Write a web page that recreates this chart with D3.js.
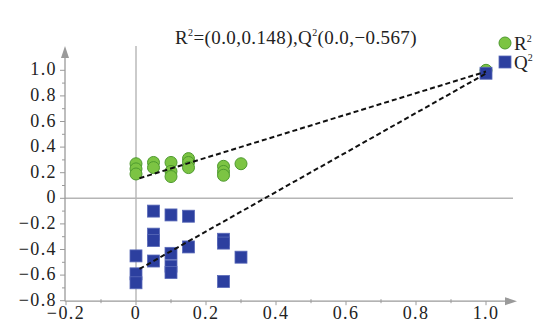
<!DOCTYPE html>
<html>
<head>
<meta charset="utf-8">
<script src="https://cdn.jsdelivr.net/npm/d3@7"></script>
<style>
  html, body { margin: 0; padding: 0; background: #fff; }
  svg { display: block; }
  text { font-family: "Liberation Serif", "DejaVu Serif", serif; fill: #222; }
</style>
</head>
<body>
<svg id="chart" width="554" height="334"></svg>
<script>
// ---- data ----
const r2X = [0, 0, 0, 0.05, 0.05, 0.1, 0.1, 0.1, 0.15, 0.15, 0.15, 0.25, 0.25, 0.25, 0.3, 1.0];
const r2Y = [0.27, 0.23, 0.19, 0.28, 0.24, 0.28, 0.21, 0.17, 0.31, 0.28, 0.24, 0.25, 0.21, 0.18, 0.27, 1.0];
const q2X = [0, 0, 0, 0.05, 0.05, 0.05, 0.05, 0.1, 0.1, 0.1, 0.1, 0.15, 0.15, 0.25, 0.25, 0.25, 0.3, 1.0];
const q2Y = [-0.45, -0.59, -0.66, -0.10, -0.28, -0.33, -0.49, -0.13, -0.43, -0.53, -0.58, -0.14, -0.38, -0.32, -0.35, -0.65, -0.46, 0.977];
const regX = [0.01, 1.0];
const regR2 = [0.157, 0.99];
const regQ2 = [-0.552, 0.975];
const xTicks = [-0.2, 0, 0.2, 0.4, 0.6, 0.8, 1.0];
const xTickLabels = ["\u22120.2", "0", "0.2", "0.4", "0.6", "0.8", "1.0"];
const yTicks = [-0.8, -0.6, -0.4, -0.2, 0, 0.2, 0.4, 0.6, 0.8, 1.0];
const yTickLabels = ["\u22120.8", "\u22120.6", "\u22120.4", "\u22120.2", "0", "0.2", "0.4", "0.6", "0.8", "1.0"];
const minorTicks = [-0.1, 0.1, 0.3, 0.5, 0.7, 0.9];
const yMinorTicks = [-0.7, -0.5, -0.3, -0.1, 0.1, 0.3, 0.5, 0.7, 0.9];
const titleMain = ["R", "=(0.0,0.148),Q", "(0.0,\u22120.567)"];

// ---- scales ----
const x = d3.scaleLinear().domain([0, 1]).range([136, 486]);
const y = d3.scaleLinear().domain([0, 1]).range([198.3, 70.3]);

const svg = d3.select("#chart");
const FONT = "'Liberation Serif', 'DejaVu Serif', serif";
const axisColor = "#9a9a9a";
const x0 = x(-0.2) - 1;     // y-axis position
const yBase = y(-0.8) + 0.5; // x-axis position
const xEnd = 517, yTop = 46;

// reference lines at zero
svg.append("line").attr("x1", x(0)).attr("x2", x(0)).attr("y1", yTop).attr("y2", yBase)
  .attr("stroke", "#b5b5b5").attr("stroke-width", 1.4);
svg.append("line").attr("x1", x0).attr("x2", xEnd - 4).attr("y1", y(0)).attr("y2", y(0))
  .attr("stroke", "#b5b5b5").attr("stroke-width", 1.4);

// axes
svg.append("line").attr("x1", x0).attr("x2", xEnd - 6).attr("y1", yBase).attr("y2", yBase)
  .attr("stroke", axisColor).attr("stroke-width", 1.3);
svg.append("path").attr("d", `M${xEnd},${yBase} L${xEnd - 12},${yBase - 4} L${xEnd - 12},${yBase + 4} Z`)
  .attr("fill", axisColor);
svg.append("line").attr("x1", x0).attr("x2", x0).attr("y1", yBase).attr("y2", yTop + 8)
  .attr("stroke", axisColor).attr("stroke-width", 1.3);
svg.append("path").attr("d", `M${x0},${yTop} L${x0 - 4},${yTop + 12} L${x0 + 4},${yTop + 12} Z`)
  .attr("fill", axisColor);

// x ticks
svg.selectAll(".xt").data(xTicks).enter().append("line")
  .attr("x1", d => x(d)).attr("x2", d => x(d)).attr("y1", yBase).attr("y2", yBase + 4)
  .attr("stroke", axisColor).attr("stroke-width", 1);
svg.selectAll(".xm").data(minorTicks).enter().append("line")
  .attr("x1", d => x(d)).attr("x2", d => x(d)).attr("y1", yBase - 2).attr("y2", yBase + 2)
  .attr("stroke", axisColor).attr("stroke-width", 1);
svg.selectAll(".xl").data(xTicks).enter().append("text")
  .attr("x", d => x(d)).attr("y", yBase + 17.5).attr("text-anchor", "middle")
  .attr("font-family", FONT).attr("font-size", 18).attr("letter-spacing", 1.4)
  .text((d, i) => xTickLabels[i]);

// y ticks
svg.selectAll(".yt").data(yTicks).enter().append("line")
  .attr("x1", x0 - 5).attr("x2", x0).attr("y1", d => y(d)).attr("y2", d => y(d))
  .attr("stroke", axisColor).attr("stroke-width", 1);
svg.selectAll(".ym").data(yMinorTicks).enter().append("line")
  .attr("x1", x0 - 3).attr("x2", x0).attr("y1", d => y(d)).attr("y2", d => y(d))
  .attr("stroke", axisColor).attr("stroke-width", 1);
svg.selectAll(".yl").data(yTicks).enter().append("text")
  .attr("x", x0 - 8).attr("y", d => y(d) + 5).attr("text-anchor", "end")
  .attr("font-family", FONT).attr("font-size", 18).attr("letter-spacing", 1.4)
  .text((d, i) => yTickLabels[i]);

// points: R2 circles
svg.selectAll(".r2").data(r2X).enter().append("circle")
  .attr("cx", d => x(d)).attr("cy", (d, i) => y(r2Y[i])).attr("r", 6)
  .attr("fill", "#7cc443").attr("stroke", "#4e9a2e").attr("stroke-width", 1);
// Q2 squares
const s = 12;
svg.selectAll(".q2").data(q2X).enter().append("rect")
  .attr("x", d => x(d) - s / 2).attr("y", (d, i) => y(q2Y[i]) - s / 2)
  .attr("width", s).attr("height", s)
  .attr("fill", "#2c3f9f").attr("stroke", "#5a6ab8").attr("stroke-width", 0.8);

// regression dashed lines
const line = d3.line().x(d => x(d[0])).y(d => y(d[1]));
svg.append("path").datum(regX.map((v, i) => [v, regR2[i]])).attr("d", line)
  .attr("fill", "none").attr("stroke", "#111").attr("stroke-width", 2).attr("stroke-dasharray", "5,3");
svg.append("path").datum(regX.map((v, i) => [v, regQ2[i]])).attr("d", line)
  .attr("fill", "none").attr("stroke", "#111").attr("stroke-width", 2).attr("stroke-dasharray", "5,3");

// title
const t = svg.append("text").attr("x", 296).attr("y", 44).attr("text-anchor", "middle")
  .attr("font-family", FONT).attr("font-size", 19).attr("letter-spacing", 0.4);
t.append("tspan").text(titleMain[0]);
t.append("tspan").attr("font-size", 10).attr("dy", -8).text("2");
t.append("tspan").attr("dy", 8).text(titleMain[1]);
t.append("tspan").attr("font-size", 10).attr("dy", -8).text("2");
t.append("tspan").attr("dy", 8).text(titleMain[2]);

// legend
svg.append("circle").attr("cx", 505).attr("cy", 43).attr("r", 6)
  .attr("fill", "#7cc443").attr("stroke", "#4e9a2e").attr("stroke-width", 1);
svg.append("rect").attr("x", 499).attr("y", 56).attr("width", 12).attr("height", 12)
  .attr("fill", "#2c3f9f").attr("stroke", "#5a6ab8").attr("stroke-width", 0.8);
const l1 = svg.append("text").attr("x", 514).attr("y", 50).attr("font-family", FONT).attr("font-size", 19);
l1.append("tspan").text("R");
l1.append("tspan").attr("font-size", 10).attr("dy", -8).text("2");
const l2 = svg.append("text").attr("x", 514).attr("y", 69).attr("font-family", FONT).attr("font-size", 19);
l2.append("tspan").text("Q");
l2.append("tspan").attr("font-size", 10).attr("dy", -8).text("2");
</script>
</body>
</html>
